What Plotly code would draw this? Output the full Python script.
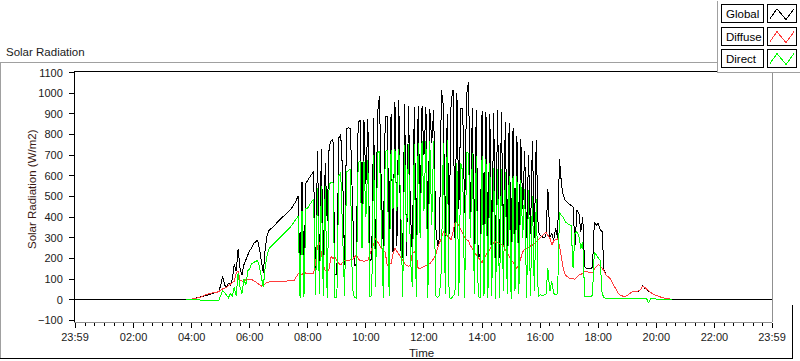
import plotly.graph_objects as go

# ---------------- data (W/m2), 4-minute samples starting 03:48 ----------------
GRID_START_MIN = 228   # 03:48
GRID_STEP_MIN = 4
DAY_START_MIN = -1     # 23:59 of the previous day
DAY_END_MIN = 1439     # 23:59
NIGHT_LEVEL = 0

global_vals = [
    0, 0, 1,
    3, 5, 7, 9, 11, 13, 16, 19, 22, 25,
    28, 30, 32, 36, 40, 70, 115, 72, 60, 80,
    72, 100, 170, 138, 245, 150, 120, 170, 195, 216,
    240, 250, 272, 280, 290, 248, 184, 130, 248, 312,
    336, 344, 352, 360, 373, 382, 392, 400, 408, 416,
    424, 437, 448, 464, 480, 504, 104, 570, 110, 565,
    580, 595, 610, 622, 110, 720, 140, 728, 150, 660,
    380, 740, 770, 776, 120, 125, 784, 800, 610, 168,
    828, 832, 830, 500, 165, 170, 860, 868, 450, 870,
    560, 875, 185, 200, 880, 190, 900, 985, 520, 250,
    890, 888, 300, 900, 230, 960, 260, 968, 240, 200,
    950, 210, 940, 420, 220, 935, 190, 936, 400, 936,
    700, 932, 300, 925, 760, 920, 360, 260, 300, 1016,
    940, 260, 900, 320, 960, 1016, 300, 1000, 440, 925,
    928, 420, 990, 1056, 420, 930, 250, 920, 200, 220,
    915, 300, 910, 210, 900, 230, 905, 190, 920, 200,
    910, 260, 860, 240, 856, 200, 830, 250, 792, 230,
    780, 440, 720, 300, 700, 320, 768, 300, 776, 330,
    312, 305, 300, 310, 536, 300, 320, 290, 345, 300,
    680, 560, 504, 480, 470, 464, 456, 450, 264, 432,
    420, 330, 400, 160, 150, 150, 152, 155, 376, 360,
    370, 340, 330, 144, 120, 112, 104, 88, 70, 56,
    36, 24, 18, 16, 16, 20, 28, 36, 40, 38,
    40, 42, 50, 69, 56, 48, 40, 32, 28, 24,
    20, 16, 12, 10, 8, 6, 5, 3, 0,
]

direct_vals = [
    0, 0, 0,
    0, 0, 0, 0, 0, -5, -5, -5, -5, -5,
    -5, -5, -5, -5, -5, 20, 45, 35, 20, 10,
    30, 15, 60, 20, 130, 60, 30, 100, 70, 140,
    150, 175, 180, 185, 190, 160, 100, 60, 160, 215,
    248, 257, 266, 276, 285, 295, 304, 313, 322, 332,
    342, 352, 365, 378, 392, 405, 10, 430, 15, 440,
    445, 462, 475, 488, 25, 540, 30, 552, 20, 552,
    10, 560, 568, 570, 10, 8, 600, 616, 360, 20,
    620, 625, 632, 60, 10, 8, 665, 670, 250, 672,
    400, 676, 12, 20, 700, 60, 710, 720, 340, 10,
    720, 722, 20, 725, 440, 728, 430, 730, 450, 15,
    750, 280, 752, 200, 60, 755, 15, 758, 300, 768,
    430, 770, 10, 770, 360, 770, 20, 10, 20, 150,
    760, 30, 776, 10, 5, 20, 30, 660, 20, 664,
    620, 8, 712, 710, 300, 712, 30, 696, 15, 8,
    696, 20, 680, 10, 660, 20, 640, 5, 632, 8,
    632, 40, 620, 30, 600, 5, 600, 40, 600, 30,
    580, 300, 536, 10, 530, 20, 500, 40, 488, 15,
    24, 22, 24, 24, 152, 40, 88, 30, 24, 30,
    424, 408, 400, 376, 370, 365, 358, 152, 320, 330,
    310, 248, 280, 16, 16, 14, 16, 20, 232, 216,
    200, 190, 30, 10, 5, 5, 5, 5, 5, 5,
    5, 5, 5, 5, 5, 5, 5, 5, 5, 5,
    5, 5, 5, 5, 5, 5, -16, 4, 4, 4,
    3, 3, 3, 2, 2, 2, 1, 1, 0,
]

diffuse_vals = [
    0, 0, 1,
    3, 5, 7, 9, 11, 13, 20, 24, 28, 30,
    32, 33, 34, 36, 40, 48, 52, 56, 60, 68,
    75, 80, 90, 130, 140, 95, 90, 92, 98, 100,
    100, 98, 92, 88, 80, 72, 66, 70, 78, 84,
    86, 86, 85, 86, 86, 87, 88, 88, 89, 90,
    90, 92, 92, 95, 110, 125, 130, 120, 140, 125,
    128, 128, 130, 128, 180, 260, 280, 230, 170, 140,
    136, 150, 208, 200, 208, 190, 175, 170, 180, 190,
    188, 190, 192, 195, 205, 216, 200, 190, 188, 186,
    188, 190, 220, 250, 270, 296, 280, 260, 250, 240,
    230, 165, 170, 175, 220, 248, 235, 220, 200, 184,
    175, 165, 162, 170, 225, 232, 220, 150, 152, 155,
    160, 165, 168, 175, 185, 200, 216, 250, 280, 300,
    328, 320, 310, 300, 290, 330, 370, 376, 360, 340,
    320, 300, 290, 285, 260, 250, 230, 216, 205, 190,
    180, 200, 216, 230, 248, 260, 275, 280, 275, 270,
    268, 264, 240, 225, 215, 200, 185, 165, 152, 170,
    200, 232, 245, 250, 255, 260, 264, 270, 280, 290,
    296, 310, 320, 328, 312, 300, 264, 285, 290, 296,
    260, 200, 150, 120, 110, 104, 102, 100, 100, 110,
    120, 122, 130, 136, 136, 134, 130, 130, 150, 160,
    170, 165, 155, 140, 120, 112, 104, 88, 70, 56,
    36, 24, 18, 16, 16, 20, 28, 36, 40, 38,
    40, 44, 50, 66, 60, 52, 40, 32, 28, 24,
    20, 16, 12, 10, 8, 6, 5, 3, 2,
]

tick_minutes = [-1, 120, 240, 360, 480, 600, 720, 840, 960, 1080, 1200, 1320, 1439]
tick_labels = ["23:59", "02:00", "04:00", "06:00", "08:00", "10:00", "12:00",
               "14:00", "16:00", "18:00", "20:00", "22:00", "23:59"]
series_names = ["Global", "Diffuse", "Direct"]
series_colors = ["#000000", "#ff3b3b", "#00ff00"]

# ---------------- build ----------------
assert len(global_vals) == len(direct_vals) == len(diffuse_vals)
t_grid = [GRID_START_MIN + GRID_STEP_MIN * k for k in range(len(global_vals))]
t_global = [DAY_START_MIN] + t_grid + [DAY_END_MIN]
y_global = [NIGHT_LEVEL] + global_vals + [NIGHT_LEVEL]

W, H = 800, 361
L, R, T, B = 75, 28, 70.5, 38.5
PW, PH = W - L - R, H - T - B
FONT = "Liberation Sans"
TXT = "#1a1a1a"


def px(x):
    return (x - L) / PW


def py(y):
    return 1 - (y - T) / PH


fig = go.Figure()
for name, xs, ys, col in [
    ("Global", t_global, y_global, series_colors[0]),
    ("Diffuse", t_grid, diffuse_vals, series_colors[1]),
    ("Direct", t_grid, direct_vals, series_colors[2]),
]:
    fig.add_trace(go.Scatter(x=xs, y=ys, mode="lines", name=name,
                             line=dict(color=col, width=1),
                             hoverinfo="skip", showlegend=False))

shapes = []


def hline(x0, x1, y, color):
    shapes.append(dict(type="line", xref="paper", yref="paper",
                       x0=px(x0), x1=px(x1), y0=py(y), y1=py(y),
                       line=dict(color=color, width=1)))


def vline(x, y0, y1, color):
    shapes.append(dict(type="line", xref="paper", yref="paper",
                       x0=px(x), x1=px(x), y0=py(y0), y1=py(y1),
                       line=dict(color=color, width=1)))


# outer panel frame
hline(0, 717, 61.5, "#a0a0a0")
vline(0.5, 61.5, 360, "#a0a0a0")
hline(0, 792.5, 359.5, "#000000")
vline(792.5, 305, 360, "#000000")
# plot frame top / right
hline(74.5, 717, 70.5, "#000000")
vline(772, 70.5, 322.5, "#909090")

# legend panel
shapes.append(dict(type="rect", xref="paper", yref="paper",
                   x0=px(717), x1=px(801), y0=py(-1), y1=py(72),
                   fillcolor="white", line=dict(width=0)))
vline(717, 0, 72, "#a0a0a0")
hline(717, 800, 72, "#a0a0a0")

annotations = []
row_tops = [4, 27, 49]
for name, col, y0 in zip(series_names, series_colors, row_tops):
    shapes.append(dict(type="rect", xref="paper", yref="paper",
                       x0=px(721.5), x1=px(763.5), y0=py(y0), y1=py(y0 + 18),
                       line=dict(color="#000000", width=1)))
    shapes.append(dict(type="rect", xref="paper", yref="paper",
                       x0=px(767.5), x1=px(796.5), y0=py(y0), y1=py(y0 + 18),
                       line=dict(color="#000000", width=1)))
    pts = [(770, y0 + 14), (777, y0 + 4), (786, y0 + 15), (794, y0 + 4)]
    path = "M " + " L ".join(f"{px(a):.5f},{py(b):.5f}" for a, b in pts)
    shapes.append(dict(type="path", xref="paper", yref="paper", path=path,
                       line=dict(color=col, width=1)))
    annotations.append(dict(text=name, xref="paper", yref="paper",
                            x=px(724), y=py(y0 + 9.5), xanchor="left",
                            yanchor="middle", showarrow=False,
                            font=dict(family=FONT, size=11.5, color="#000000")))

annotations += [
    dict(text="Solar Radiation", xref="paper", yref="paper", x=px(4), y=py(51),
         xanchor="left", yanchor="middle", showarrow=False,
         font=dict(family=FONT, size=11.5, color=TXT)),
    dict(text="Time", xref="paper", yref="paper", x=px(421), y=py(354),
         xanchor="center", yanchor="middle", showarrow=False,
         font=dict(family=FONT, size=11.5, color=TXT)),
    dict(text="Solar Radiation (W/m2)", xref="paper", yref="paper", x=px(32),
         y=py(189), xanchor="center", yanchor="middle", textangle=-90,
         showarrow=False, font=dict(family=FONT, size=11.5, color="#3a1a14")),
]

fig.update_layout(
    width=W, height=H,
    margin=dict(l=L, r=R, t=T, b=B, pad=0),
    paper_bgcolor="white", plot_bgcolor="white",
    showlegend=False,
    shapes=shapes, annotations=annotations,
    xaxis=dict(range=[DAY_START_MIN, DAY_END_MIN], tickmode="array",
               tickvals=tick_minutes, ticktext=tick_labels,
               ticks="outside", ticklen=5, tickcolor="#000000", tickwidth=1,
               showline=True, linecolor="#909090", linewidth=1,
               showgrid=False, zeroline=False,
               tickfont=dict(family=FONT, size=11, color=TXT),
               minor=dict(tickmode="linear", tick0=0, dtick=20, ticks="outside",
                          ticklen=3, tickcolor="#000000", tickwidth=1,
                          showgrid=False)),
    yaxis=dict(range=[-108, 1108], tickmode="linear", tick0=-100, dtick=100,
               ticks="outside", ticklen=5, tickcolor="#000000", tickwidth=1,
               showline=True, linecolor="#000000", linewidth=1,
               showgrid=False, zeroline=False, ticklabelstandoff=4,
               tickfont=dict(family=FONT, size=11, color=TXT)),
)

PAGE_FIX = (
    "document.body.style.margin='0';"
    "var s=document.createElement('style');"
    "s.innerHTML='.scatterlayer .js-line{shape-rendering:crispEdges}"
    " .shapelayer path{shape-rendering:crispEdges}';"
    "document.head.appendChild(s);"
)
fig.write_html("out.html", post_script=PAGE_FIX,
               config={"displayModeBar": False, "staticPlot": True})
